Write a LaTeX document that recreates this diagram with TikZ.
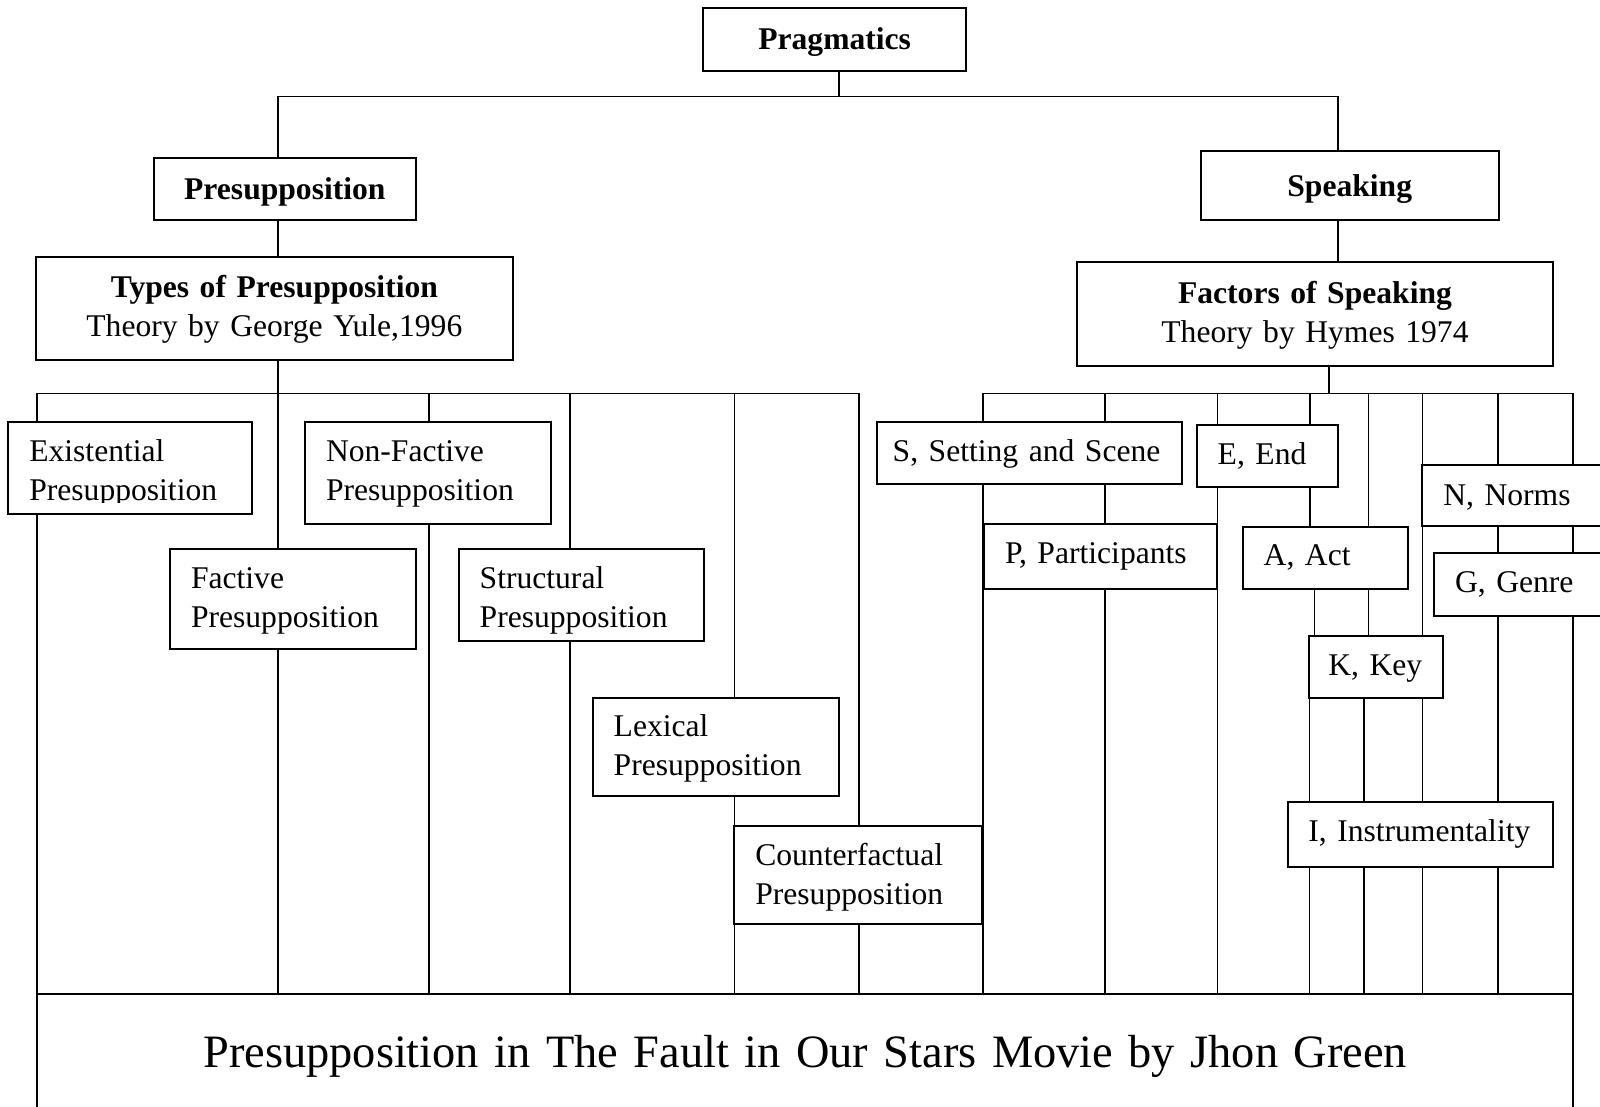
\documentclass[tikz,border=0pt]{standalone}
\usepackage{fontspec}
\setmainfont{Liberation Serif}
\usetikzlibrary{backgrounds}

\begin{document}
\begin{tikzpicture}[x=0.5pt,y=-0.5pt,
		every node/.style={font=\fontsize{15.8}{19.6}\selectfont},
		headbox/.style={draw, line width=1pt, fill=white, inner sep=0pt, outer sep=0pt, anchor=north west, align=center},
		itembox/.style={draw, line width=1pt, fill=white, inner ysep=0pt, inner xsep=10.5pt, outer sep=0pt, anchor=north west, align=left},
		link/.style={line width=0.8pt}]

		\useasboundingbox (0,0) rectangle (1600,1107);
		\clip (0,0) rectangle (1600,1107);

		% heads
		\node [headbox, text width=131.35pt, text height=20.85pt, text depth=10.35pt] (prag) at (703.3,8.3) {\bfseries Pragmatics};
		\node [headbox, text width=130.85pt, text height=20.5pt, text depth=10.35pt] (presup) at (154,158.3) {\bfseries Presupposition};
		\node [headbox, text width=149pt, text height=23pt, text depth=11.65pt] (speak) at (1200.7,150.7) {\bfseries Speaking};
		\node [headbox, text width=238.35pt, text height=20.5pt, text depth=31.15pt] (types) at (36,256.7) {{\bfseries Types of Presupposition}\\Theory by George Yule,1996};
		\node [headbox, text width=238.3pt, text height=20.5pt, text depth=31.2pt] (factors) at (1076.7,262.3) {{\bfseries Factors of Speaking}\\Theory by Hymes 1974};

		% types of presupposition
		\node [itembox, text width=101pt, text height=19.7pt, text depth=26.15pt] (exist) at (8.3,422.3) {Existential\\Presupposition};
		\node [itembox, text width=102pt, text height=19.7pt, text depth=31.3pt] (nonfact) at (305,422.3) {Non-Factive\\Presupposition};
		\node [itembox, text width=101.85pt, text height=19.65pt, text depth=30.35pt] (fact) at (170,549) {Factive\\Presupposition};
		\node [itembox, text width=101.8pt, text height=19.65pt, text depth=26.35pt] (struct) at (458.7,549) {Structural\\Presupposition};
		\node [itembox, text width=102.15pt, text height=19.5pt, text depth=29.5pt] (lex) at (592.7,697.7) {Lexical\\Presupposition};
		\node [itembox, text width=103pt, text height=20pt, text depth=29.3pt] (counter) at (734.3,825.7) {Counterfactual\\Presupposition};
		\fill [white] (9.5,503.3) rectangle (251.3,513);

		% factors of speaking
		\node [itembox, inner xsep=8pt, text width=136.5pt, text height=19.7pt, text depth=11.3pt] (setting) at (876.7,422.3) {S, Setting and Scene};
		\node [itembox, text width=95.65pt, text height=19.5pt, text depth=12.85pt] (part) at (984,524.3) {P, Participants};
		\node [itembox, text width=49.5pt, text height=19.65pt, text depth=11.5pt] (endf) at (1196.7,425) {E, End};
		\node [itembox, text width=61.5pt, text height=19.15pt, text depth=12pt] (act) at (1242.7,526.7) {A, Act};
		\node [itembox, inner xsep=9.5pt, text width=47.7pt, text height=19.65pt, text depth=11.35pt] (key) at (1309.3,635.7) {K, Key};
		\node [itembox, text width=77.85pt, text height=20pt, text depth=10.5pt] (norms) at (1422.3,465) {N, Norms};
		\node [itembox, text width=72pt, text height=19.5pt, text depth=11.85pt] (genre) at (1434,553.3) {G, Genre};
		\node [itembox, inner xsep=10pt, text width=112.5pt, text height=20pt, text depth=12.5pt] (instr) at (1288.3,801.7) {I, Instrumentality};

		% result
		\node [headbox, font=\fontsize{23.2}{27.8}\selectfont, text width=768.15pt, text height=36.5pt, text depth=31.5pt] (result) at (37,994) {Presupposition in The Fault in Our Stars Movie by Jhon Green};

		\begin{pgfonlayer}{background}
			\draw [link] (839,0 |- prag.south) -- (839,96.7);
			\draw [link] (277.7,0 |- presup.north) |- (1337.7,96.7) -- (1337.7,0 |- speak.north);
			\draw [link] (277.7,0 |- presup.south) -- (277.7,0 |- types.north);
			\draw [link] (1337.7,0 |- speak.south) -- (1337.7,0 |- factors.north);

			% left bus
			\draw [link] (277.7,0 |- types.south) -- (277.7,393.3);
			\draw [link] (36.7,0 |- result.north) |- (859,393.3) -- (859,0 |- result.north);
			\foreach \x in {277.7,429,570,734.3}
				\draw [link] (\x,393.3) -- (\x,0 |- result.north);

			% right bus
			\draw [link] (1328.7,0 |- factors.south) -- (1328.7,393.3);
			\draw [link] (983,0 |- result.north) |- (1572.7,393.3) -- (1572.7,0 |- result.north);
			\foreach \x in {1105,1217.3,1422.5,1498}
				\draw [link] (\x,393.3) -- (\x,0 |- result.north);
			\draw [link] (1309.7,393.3) -- (1309.7,0 |- act.north);
			\draw [link] (1314.5,0 |- act.south) -- (1314.5,0 |- key.north);
			\draw [link] (1309.3,0 |- key.north) -- (1309.3,0 |- result.north);
			\draw [link] (1368.3,393.3) -- (1368.3,0 |- key.north);
			\draw [link] (1364,0 |- key.south) -- (1364,0 |- result.north);
		\end{pgfonlayer}

	\end{tikzpicture}
\end{document}
